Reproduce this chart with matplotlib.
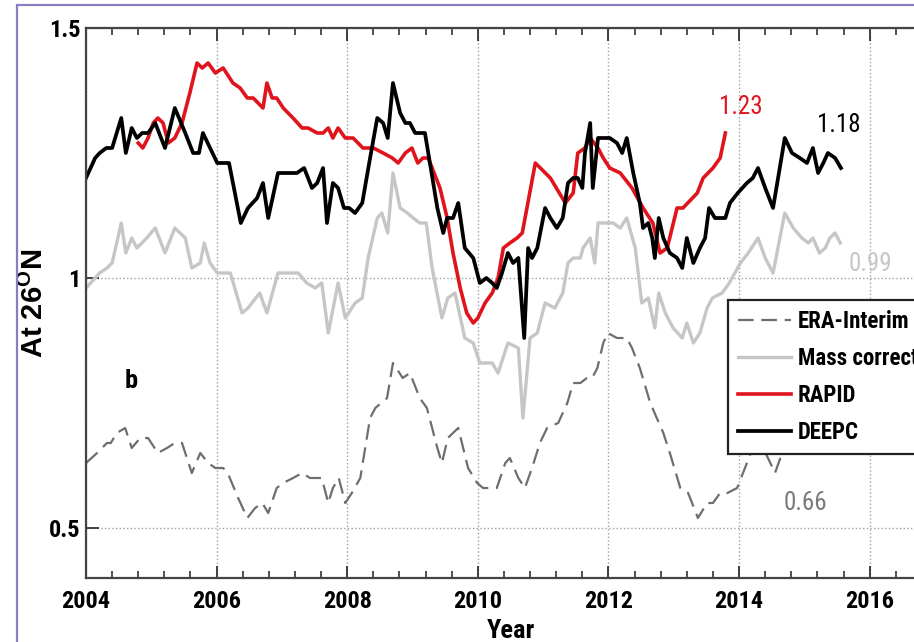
import numpy as np
import matplotlib
matplotlib.use('Agg')
import matplotlib.pyplot as plt
from matplotlib.ticker import MultipleLocator
from matplotlib.patches import Rectangle

# DEEPC (black)
deepc_yr = [2004.00, 2004.14, 2004.21, 2004.31, 2004.40, 2004.54, 2004.61, 2004.70, 2004.78, 2004.86,
            2004.95, 2005.06, 2005.21, 2005.36, 2005.52, 2005.64, 2005.73, 2005.79, 2005.90, 2006.01,
            2006.19, 2006.37, 2006.48, 2006.62, 2006.71, 2006.79, 2006.94, 2007.02, 2007.12, 2007.23,
            2007.34, 2007.46, 2007.54, 2007.63, 2007.69, 2007.78, 2007.86, 2007.95, 2008.03, 2008.12,
            2008.23, 2008.35, 2008.46, 2008.55, 2008.62, 2008.70, 2008.81, 2008.89, 2008.96, 2009.04,
            2009.12, 2009.19, 2009.38, 2009.47, 2009.53, 2009.62, 2009.70, 2009.80, 2009.93, 2010.03,
            2010.13, 2010.22, 2010.29, 2010.37, 2010.46, 2010.54, 2010.62, 2010.71, 2010.77, 2010.83,
            2010.91, 2011.03, 2011.11, 2011.21, 2011.30, 2011.38, 2011.46, 2011.53, 2011.60, 2011.64,
            2011.72, 2011.76, 2011.84, 2011.92, 2012.02, 2012.13, 2012.21, 2012.28, 2012.38, 2012.48,
            2012.53, 2012.61, 2012.67, 2012.71, 2012.77, 2012.84, 2012.94, 2013.05, 2013.13, 2013.20,
            2013.30, 2013.40, 2013.48, 2013.54, 2013.63, 2013.79, 2013.86, 2013.98, 2014.12, 2014.21,
            2014.29, 2014.40, 2014.52, 2014.70, 2014.81, 2014.93, 2015.04, 2015.13, 2015.21, 2015.29,
            2015.36, 2015.47, 2015.56]
deepc_val = [1.20, 1.24, 1.25, 1.26, 1.26, 1.32, 1.25, 1.30, 1.28, 1.29,
             1.29, 1.31, 1.26, 1.34, 1.29, 1.25, 1.25, 1.29, 1.26, 1.23,
             1.23, 1.11, 1.14, 1.16, 1.19, 1.12, 1.21, 1.21, 1.21, 1.21,
             1.22, 1.18, 1.19, 1.22, 1.11, 1.19, 1.18, 1.14, 1.14, 1.13,
             1.15, 1.24, 1.32, 1.31, 1.28, 1.39, 1.33, 1.31, 1.31, 1.29,
             1.29, 1.29, 1.14, 1.09, 1.12, 1.12, 1.15, 1.06, 1.04, 0.99,
             1.00, 0.99, 0.98, 1.01, 1.05, 1.03, 1.04, 0.88, 1.06, 1.04,
             1.06, 1.14, 1.12, 1.10, 1.12, 1.19, 1.20, 1.20, 1.18, 1.25,
             1.31, 1.18, 1.28, 1.28, 1.28, 1.27, 1.25, 1.28, 1.21, 1.15,
             1.10, 1.11, 1.08, 1.04, 1.12, 1.08, 1.05, 1.04, 1.02, 1.08,
             1.03, 1.06, 1.08, 1.14, 1.12, 1.12, 1.15, 1.17, 1.19, 1.20,
             1.22, 1.18, 1.14, 1.28, 1.25, 1.24, 1.23, 1.26, 1.21, 1.23,
             1.25, 1.24, 1.22]

# RAPID (red)
rapid_yr = [2004.80, 2004.87, 2004.95, 2005.03, 2005.10, 2005.18, 2005.26, 2005.36, 2005.47, 2005.59,
            2005.70, 2005.78, 2005.87, 2005.98, 2006.10, 2006.25, 2006.36, 2006.47, 2006.56, 2006.71,
            2006.77, 2006.85, 2006.92, 2007.02, 2007.17, 2007.31, 2007.40, 2007.54, 2007.63, 2007.71,
            2007.78, 2007.86, 2007.97, 2008.09, 2008.24, 2008.40, 2008.55, 2008.69, 2008.78, 2008.89,
            2008.99, 2009.08, 2009.16, 2009.24, 2009.42, 2009.53, 2009.62, 2009.73, 2009.83, 2009.93,
            2010.00, 2010.11, 2010.22, 2010.31, 2010.39, 2010.49, 2010.60, 2010.68, 2010.88, 2011.11,
            2011.34, 2011.46, 2011.53, 2011.64, 2011.72, 2011.84, 2011.92, 2012.02, 2012.18, 2012.36,
            2012.53, 2012.68, 2012.79, 2012.90, 2013.05, 2013.14, 2013.36, 2013.45, 2013.60, 2013.71,
            2013.79]
rapid_val = [1.27, 1.26, 1.28, 1.31, 1.32, 1.31, 1.27, 1.28, 1.31, 1.37,
             1.43, 1.42, 1.43, 1.41, 1.42, 1.39, 1.38, 1.36, 1.36, 1.34,
             1.39, 1.36, 1.36, 1.34, 1.32, 1.30, 1.30, 1.29, 1.29, 1.30,
             1.28, 1.30, 1.28, 1.28, 1.26, 1.26, 1.25, 1.24, 1.23, 1.25,
             1.26, 1.23, 1.24, 1.24, 1.18, 1.12, 1.05, 0.98, 0.93, 0.91,
             0.92, 0.95, 0.97, 1.00, 1.06, 1.07, 1.08, 1.09, 1.23, 1.20,
             1.15, 1.17, 1.25, 1.26, 1.28, 1.26, 1.24, 1.22, 1.21, 1.18,
             1.14, 1.11, 1.05, 1.06, 1.14, 1.14, 1.17, 1.20, 1.22, 1.24,
             1.29]

# Mass corrected (light grey)
mass_yr = [2004.00, 2004.14, 2004.21, 2004.32, 2004.40, 2004.54, 2004.61, 2004.70, 2004.78, 2004.93,
           2005.06, 2005.21, 2005.36, 2005.52, 2005.62, 2005.75, 2005.81, 2005.90, 2006.01, 2006.21,
           2006.39, 2006.48, 2006.66, 2006.77, 2006.94, 2007.12, 2007.25, 2007.38, 2007.51, 2007.61,
           2007.71, 2007.86, 2007.97, 2008.12, 2008.23, 2008.32, 2008.46, 2008.53, 2008.62, 2008.70,
           2008.81, 2008.92, 2009.01, 2009.11, 2009.21, 2009.30, 2009.45, 2009.54, 2009.65, 2009.80,
           2009.93, 2010.03, 2010.14, 2010.22, 2010.31, 2010.46, 2010.62, 2010.69, 2010.80, 2010.91,
           2011.03, 2011.18, 2011.30, 2011.38, 2011.46, 2011.57, 2011.61, 2011.72, 2011.79, 2011.84,
           2011.95, 2012.07, 2012.18, 2012.28, 2012.41, 2012.51, 2012.61, 2012.71, 2012.77, 2012.87,
           2012.99, 2013.13, 2013.20, 2013.30, 2013.40, 2013.51, 2013.59, 2013.74, 2013.85, 2014.02,
           2014.14, 2014.29, 2014.40, 2014.52, 2014.70, 2014.83, 2014.96, 2015.06, 2015.13, 2015.23,
           2015.32, 2015.39, 2015.47, 2015.55]
mass_val = [0.98, 1.00, 1.01, 1.02, 1.03, 1.11, 1.05, 1.08, 1.06, 1.08,
            1.10, 1.05, 1.10, 1.08, 1.02, 1.03, 1.07, 1.03, 1.01, 1.01,
            0.93, 0.94, 0.97, 0.93, 1.01, 1.01, 1.01, 0.99, 0.98, 0.99,
            0.89, 0.99, 0.92, 0.95, 0.96, 1.04, 1.12, 1.13, 1.09, 1.21,
            1.14, 1.13, 1.12, 1.11, 1.11, 1.02, 0.92, 0.96, 0.97, 0.88,
            0.87, 0.83, 0.83, 0.83, 0.81, 0.87, 0.86, 0.72, 0.88, 0.89,
            0.95, 0.94, 0.97, 1.03, 1.04, 1.04, 1.06, 1.08, 1.03, 1.11,
            1.11, 1.11, 1.10, 1.12, 1.06, 0.95, 0.96, 0.90, 0.97, 0.93,
            0.90, 0.88, 0.91, 0.87, 0.89, 0.94, 0.96, 0.97, 0.99, 1.03,
            1.05, 1.08, 1.04, 1.01, 1.13, 1.10, 1.08, 1.07, 1.08, 1.05,
            1.06, 1.08, 1.09, 1.07]

# ERA-Interim (dashed grey)
era_yr = [2004.00, 2004.17, 2004.32, 2004.38, 2004.47, 2004.60, 2004.70, 2004.83, 2004.95, 2005.10,
          2005.24, 2005.36, 2005.47, 2005.62, 2005.75, 2005.87, 2005.98, 2006.10, 2006.17, 2006.33,
          2006.47, 2006.59, 2006.70, 2006.79, 2006.92, 2007.02, 2007.17, 2007.31, 2007.43, 2007.61,
          2007.71, 2007.78, 2007.87, 2007.97, 2008.07, 2008.20, 2008.35, 2008.43, 2008.61, 2008.70,
          2008.85, 2008.96, 2009.11, 2009.22, 2009.38, 2009.45, 2009.54, 2009.70, 2009.85, 2009.99,
          2010.08, 2010.29, 2010.42, 2010.49, 2010.62, 2010.72, 2010.83, 2010.95, 2011.06, 2011.23,
          2011.37, 2011.46, 2011.57, 2011.67, 2011.75, 2011.83, 2011.92, 2011.99, 2012.13, 2012.28,
          2012.36, 2012.48, 2012.64, 2012.74, 2012.84, 2012.94, 2013.10, 2013.22, 2013.37, 2013.51,
          2013.60, 2013.71, 2013.82, 2013.97, 2014.06, 2014.21, 2014.37, 2014.55, 2014.66, 2014.80,
          2015.00, 2015.20, 2015.40, 2015.55]
era_val = [0.63, 0.65, 0.67, 0.67, 0.69, 0.70, 0.66, 0.68, 0.68, 0.65,
           0.66, 0.67, 0.67, 0.61, 0.65, 0.63, 0.62, 0.62, 0.61, 0.56,
           0.52, 0.54, 0.55, 0.53, 0.58, 0.59, 0.60, 0.61, 0.60, 0.60,
           0.55, 0.58, 0.60, 0.55, 0.57, 0.60, 0.72, 0.74, 0.76, 0.83,
           0.80, 0.81, 0.76, 0.74, 0.66, 0.63, 0.68, 0.70, 0.62, 0.59,
           0.58, 0.58, 0.63, 0.64, 0.60, 0.58, 0.62, 0.67, 0.70, 0.71,
           0.75, 0.79, 0.79, 0.80, 0.80, 0.82, 0.87, 0.89, 0.88, 0.88,
           0.86, 0.82, 0.75, 0.72, 0.69, 0.65, 0.58, 0.57, 0.52, 0.55,
           0.55, 0.57, 0.57, 0.58, 0.61, 0.66, 0.66, 0.61, 0.65, 0.70,
           0.71, 0.70, 0.71, 0.70]

x_ticks = [2004, 2006, 2008, 2010, 2012, 2014, 2016]
y_ticks = [0.5, 1, 1.5]
y_ticklabels = ['0.5', '1', '1.5']

plt.rcParams['font.family'] = ['Liberation Sans Narrow', 'Roboto Condensed', 'Liberation Sans', 'DejaVu Sans']
plt.rcParams['font.weight'] = 'bold'
plt.rcParams['mathtext.default'] = 'regular'

W, H = 914, 642
fig = plt.figure(figsize=(W / 100, H / 100), dpi=100)
ax = fig.add_axes([86 / W, 64 / H, 849 / W, 550 / H])

ax.plot(era_yr, era_val, color='#6e6e6e', lw=1.6, ls=(0, (7, 3.5)), label='ERA-Interim')
ax.plot(mass_yr, mass_val, color='#c6c6c6', lw=2.4, label='Mass corrected')
ax.plot(rapid_yr, rapid_val, color='#e0141c', lw=2.6, label='RAPID')
ax.plot(deepc_yr, deepc_val, color='black', lw=2.7, label='DEEPC')

ax.set_xlim(2004, 2017)
ax.set_ylim(0.4, 1.5)
ax.set_xticks(x_ticks)
ax.xaxis.set_minor_locator(MultipleLocator(0.4))
ax.set_yticks(y_ticks)
ax.set_yticklabels(y_ticklabels)
ax.tick_params(which='both', direction='in', top=True, right=True, colors='#333333',
               labelcolor='black', labelsize=17.5)
ax.tick_params(which='major', length=9, width=1.3)
ax.tick_params(which='minor', length=5, width=1.2)
ax.tick_params(axis='x', pad=9)
ax.tick_params(axis='y', pad=4)
for s in ax.spines.values():
    s.set_linewidth(1.6)
    s.set_color('#444444')

ax.grid(True, which='major', ls=':', color='#a0a0a0', lw=1.0)

ax.set_xlabel('Year', fontsize=19, fontweight='bold', labelpad=4)
ax.set_ylabel('At 26$^{O}$N', fontsize=21, fontweight='bold',
              family=['Liberation Sans', 'DejaVu Sans'])
ax.yaxis.set_label_coords(-37 / 849, 0.5)

ax.text(2014.03, 1.342, '1.23', color='#e0141c', fontsize=18, fontweight='normal',
        ha='center', va='center')
ax.text(2015.52, 1.306, '1.18', color='black', fontsize=18, fontweight='normal',
        ha='center', va='center')
ax.text(2016.01, 1.028, '0.99', color='#c6c6c6', fontsize=18, fontweight='normal',
        ha='center', va='center')
ax.text(2015.01, 0.55, '0.66', color='#7a7a7a', fontsize=18, fontweight='normal',
        ha='center', va='center')
ax.text(2004.69, 0.794, 'b', color='black', fontsize=19, fontweight='bold',
        ha='center', va='center')

leg = ax.legend(loc='upper left', bbox_to_anchor=(728 / W, 1 - 300 / H),
                bbox_transform=fig.transFigure, fontsize=16.5, frameon=True, fancybox=False,
                framealpha=1, edgecolor='#222222', borderaxespad=0, borderpad=0.45,
                handlelength=2.3, handletextpad=0.3, labelspacing=0.6)
leg.get_frame().set_linewidth(1.6)

# purple outer frame (cropped on the right and bottom)
fig.patches.append(Rectangle((17 / W, -0.1), 1.2, 1 - 5 / H + 0.1, transform=fig.transFigure,
                             fill=False, edgecolor='#8a7ec2', lw=1.6, zorder=10))

fig.savefig('out.png', dpi=100)
